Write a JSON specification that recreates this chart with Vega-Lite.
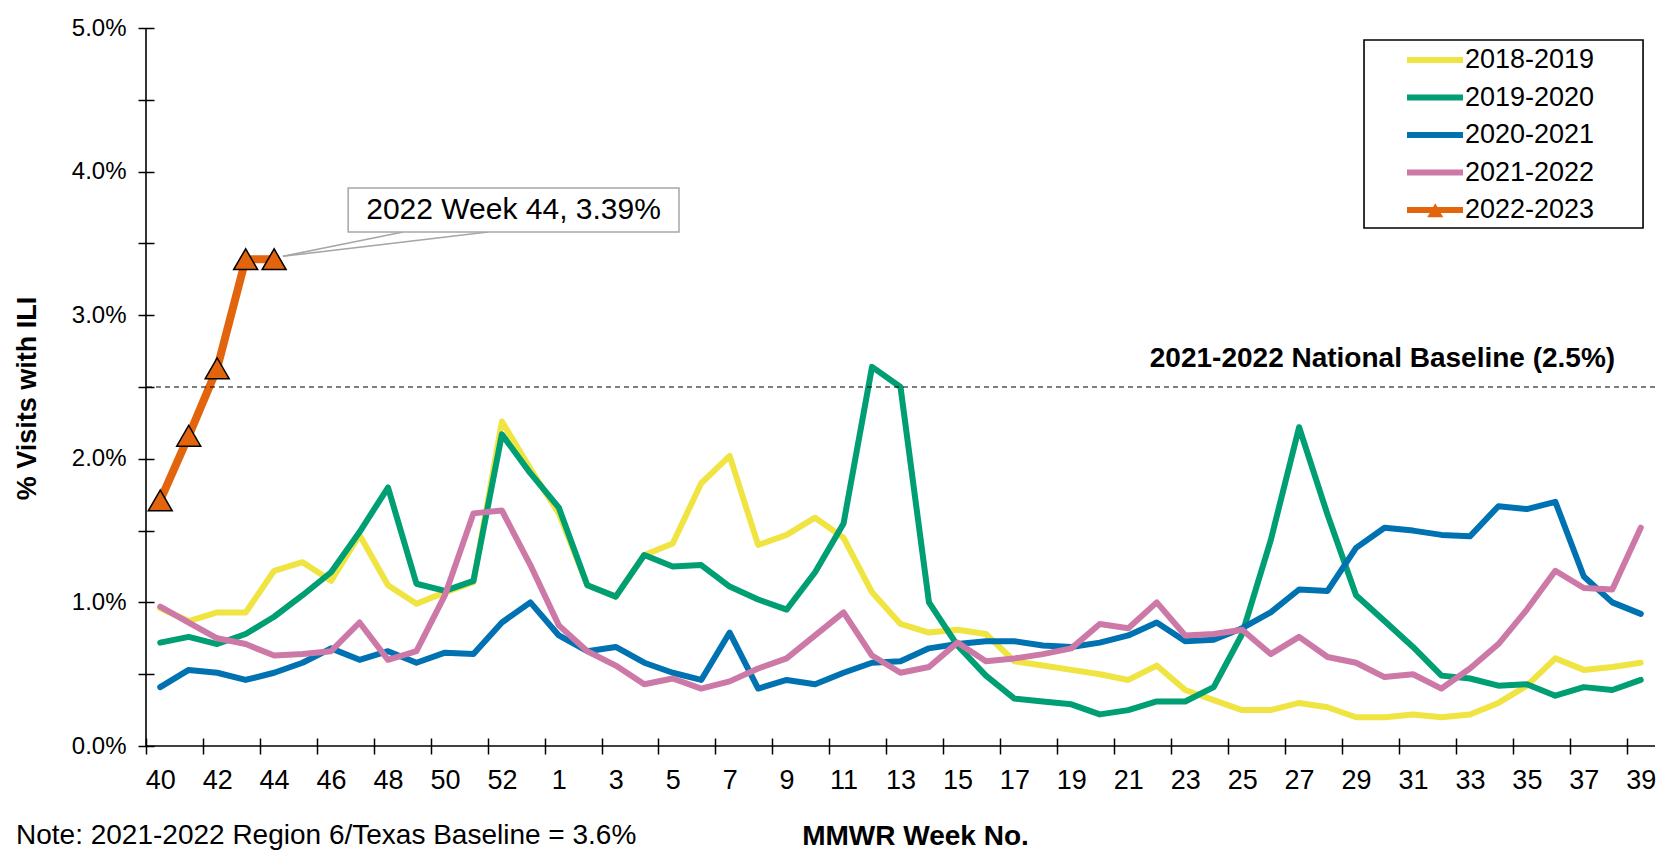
{
  "$schema": "https://vega.github.io/schema/vega-lite/v6.json",
  "width": 1509,
  "height": 718,
  "autosize": {"type": "none"},
  "padding": {"left": 146, "top": 28, "right": 10, "bottom": 104},
  "background": "white",
  "config": {"view": {"stroke": null}, "font": "Liberation Sans"},
  "title": {"text": "Note: 2021-2022 Region 6/Texas Baseline = 3.6%", "orient": "bottom", "anchor": "start", "frame": "group", "dx": -130, "offset": -28, "fontSize": 28, "fontWeight": "normal", "color": "black"},
  "datasets": {
    "ili": [
      {"s":"2018-2019","i":0,"w":40,"v":0.96},{"s":"2018-2019","i":1,"w":41,"v":0.87},{"s":"2018-2019","i":2,"w":42,"v":0.93},{"s":"2018-2019","i":3,"w":43,"v":0.93},{"s":"2018-2019","i":4,"w":44,"v":1.22},{"s":"2018-2019","i":5,"w":45,"v":1.28},{"s":"2018-2019","i":6,"w":46,"v":1.15},{"s":"2018-2019","i":7,"w":47,"v":1.47},{"s":"2018-2019","i":8,"w":48,"v":1.12},{"s":"2018-2019","i":9,"w":49,"v":0.99},{"s":"2018-2019","i":10,"w":50,"v":1.07},{"s":"2018-2019","i":11,"w":51,"v":1.14},{"s":"2018-2019","i":12,"w":52,"v":2.26},{"s":"2018-2019","i":13,"w":53,"v":1.93},{"s":"2018-2019","i":14,"w":1,"v":1.62},{"s":"2018-2019","i":15,"w":2,"v":1.12},{"s":"2018-2019","i":16,"w":3,"v":1.04},{"s":"2018-2019","i":17,"w":4,"v":1.33},{"s":"2018-2019","i":18,"w":5,"v":1.41},{"s":"2018-2019","i":19,"w":6,"v":1.83},{"s":"2018-2019","i":20,"w":7,"v":2.02},{"s":"2018-2019","i":21,"w":8,"v":1.40},{"s":"2018-2019","i":22,"w":9,"v":1.47},{"s":"2018-2019","i":23,"w":10,"v":1.59},{"s":"2018-2019","i":24,"w":11,"v":1.45},{"s":"2018-2019","i":25,"w":12,"v":1.07},{"s":"2018-2019","i":26,"w":13,"v":0.85},{"s":"2018-2019","i":27,"w":14,"v":0.79},{"s":"2018-2019","i":28,"w":15,"v":0.81},{"s":"2018-2019","i":29,"w":16,"v":0.78},{"s":"2018-2019","i":30,"w":17,"v":0.59},{"s":"2018-2019","i":31,"w":18,"v":0.56},{"s":"2018-2019","i":32,"w":19,"v":0.53},{"s":"2018-2019","i":33,"w":20,"v":0.50},{"s":"2018-2019","i":34,"w":21,"v":0.46},{"s":"2018-2019","i":35,"w":22,"v":0.56},{"s":"2018-2019","i":36,"w":23,"v":0.39},{"s":"2018-2019","i":37,"w":24,"v":0.32},{"s":"2018-2019","i":38,"w":25,"v":0.25},{"s":"2018-2019","i":39,"w":26,"v":0.25},{"s":"2018-2019","i":40,"w":27,"v":0.30},{"s":"2018-2019","i":41,"w":28,"v":0.27},{"s":"2018-2019","i":42,"w":29,"v":0.20},{"s":"2018-2019","i":43,"w":30,"v":0.20},{"s":"2018-2019","i":44,"w":31,"v":0.22},{"s":"2018-2019","i":45,"w":32,"v":0.20},{"s":"2018-2019","i":46,"w":33,"v":0.22},{"s":"2018-2019","i":47,"w":34,"v":0.30},{"s":"2018-2019","i":48,"w":35,"v":0.42},{"s":"2018-2019","i":49,"w":36,"v":0.61},{"s":"2018-2019","i":50,"w":37,"v":0.53},{"s":"2018-2019","i":51,"w":38,"v":0.55},{"s":"2018-2019","i":52,"w":39,"v":0.58},
      {"s":"2019-2020","i":0,"w":40,"v":0.72},{"s":"2019-2020","i":1,"w":41,"v":0.76},{"s":"2019-2020","i":2,"w":42,"v":0.71},{"s":"2019-2020","i":3,"w":43,"v":0.78},{"s":"2019-2020","i":4,"w":44,"v":0.90},{"s":"2019-2020","i":5,"w":45,"v":1.05},{"s":"2019-2020","i":6,"w":46,"v":1.21},{"s":"2019-2020","i":7,"w":47,"v":1.49},{"s":"2019-2020","i":8,"w":48,"v":1.80},{"s":"2019-2020","i":9,"w":49,"v":1.13},{"s":"2019-2020","i":10,"w":50,"v":1.08},{"s":"2019-2020","i":11,"w":51,"v":1.15},{"s":"2019-2020","i":12,"w":52,"v":2.17},{"s":"2019-2020","i":13,"w":53,"v":1.90},{"s":"2019-2020","i":14,"w":1,"v":1.66},{"s":"2019-2020","i":15,"w":2,"v":1.12},{"s":"2019-2020","i":16,"w":3,"v":1.04},{"s":"2019-2020","i":17,"w":4,"v":1.33},{"s":"2019-2020","i":18,"w":5,"v":1.25},{"s":"2019-2020","i":19,"w":6,"v":1.26},{"s":"2019-2020","i":20,"w":7,"v":1.11},{"s":"2019-2020","i":21,"w":8,"v":1.02},{"s":"2019-2020","i":22,"w":9,"v":0.95},{"s":"2019-2020","i":23,"w":10,"v":1.21},{"s":"2019-2020","i":24,"w":11,"v":1.55},{"s":"2019-2020","i":25,"w":12,"v":2.64},{"s":"2019-2020","i":26,"w":13,"v":2.50},{"s":"2019-2020","i":27,"w":14,"v":1.00},{"s":"2019-2020","i":28,"w":15,"v":0.70},{"s":"2019-2020","i":29,"w":16,"v":0.49},{"s":"2019-2020","i":30,"w":17,"v":0.33},{"s":"2019-2020","i":31,"w":18,"v":0.31},{"s":"2019-2020","i":32,"w":19,"v":0.29},{"s":"2019-2020","i":33,"w":20,"v":0.22},{"s":"2019-2020","i":34,"w":21,"v":0.25},{"s":"2019-2020","i":35,"w":22,"v":0.31},{"s":"2019-2020","i":36,"w":23,"v":0.31},{"s":"2019-2020","i":37,"w":24,"v":0.41},{"s":"2019-2020","i":38,"w":25,"v":0.78},{"s":"2019-2020","i":39,"w":26,"v":1.43},{"s":"2019-2020","i":40,"w":27,"v":2.22},{"s":"2019-2020","i":41,"w":28,"v":1.61},{"s":"2019-2020","i":42,"w":29,"v":1.05},{"s":"2019-2020","i":43,"w":30,"v":0.87},{"s":"2019-2020","i":44,"w":31,"v":0.69},{"s":"2019-2020","i":45,"w":32,"v":0.49},{"s":"2019-2020","i":46,"w":33,"v":0.47},{"s":"2019-2020","i":47,"w":34,"v":0.42},{"s":"2019-2020","i":48,"w":35,"v":0.43},{"s":"2019-2020","i":49,"w":36,"v":0.35},{"s":"2019-2020","i":50,"w":37,"v":0.41},{"s":"2019-2020","i":51,"w":38,"v":0.39},{"s":"2019-2020","i":52,"w":39,"v":0.46},
      {"s":"2020-2021","i":0,"w":40,"v":0.41},{"s":"2020-2021","i":1,"w":41,"v":0.53},{"s":"2020-2021","i":2,"w":42,"v":0.51},{"s":"2020-2021","i":3,"w":43,"v":0.46},{"s":"2020-2021","i":4,"w":44,"v":0.51},{"s":"2020-2021","i":5,"w":45,"v":0.58},{"s":"2020-2021","i":6,"w":46,"v":0.68},{"s":"2020-2021","i":7,"w":47,"v":0.60},{"s":"2020-2021","i":8,"w":48,"v":0.66},{"s":"2020-2021","i":9,"w":49,"v":0.58},{"s":"2020-2021","i":10,"w":50,"v":0.65},{"s":"2020-2021","i":11,"w":51,"v":0.64},{"s":"2020-2021","i":12,"w":52,"v":0.86},{"s":"2020-2021","i":13,"w":53,"v":1.00},{"s":"2020-2021","i":14,"w":1,"v":0.77},{"s":"2020-2021","i":15,"w":2,"v":0.66},{"s":"2020-2021","i":16,"w":3,"v":0.69},{"s":"2020-2021","i":17,"w":4,"v":0.58},{"s":"2020-2021","i":18,"w":5,"v":0.51},{"s":"2020-2021","i":19,"w":6,"v":0.46},{"s":"2020-2021","i":20,"w":7,"v":0.79},{"s":"2020-2021","i":21,"w":8,"v":0.40},{"s":"2020-2021","i":22,"w":9,"v":0.46},{"s":"2020-2021","i":23,"w":10,"v":0.43},{"s":"2020-2021","i":24,"w":11,"v":0.51},{"s":"2020-2021","i":25,"w":12,"v":0.58},{"s":"2020-2021","i":26,"w":13,"v":0.59},{"s":"2020-2021","i":27,"w":14,"v":0.68},{"s":"2020-2021","i":28,"w":15,"v":0.71},{"s":"2020-2021","i":29,"w":16,"v":0.73},{"s":"2020-2021","i":30,"w":17,"v":0.73},{"s":"2020-2021","i":31,"w":18,"v":0.70},{"s":"2020-2021","i":32,"w":19,"v":0.69},{"s":"2020-2021","i":33,"w":20,"v":0.72},{"s":"2020-2021","i":34,"w":21,"v":0.77},{"s":"2020-2021","i":35,"w":22,"v":0.86},{"s":"2020-2021","i":36,"w":23,"v":0.73},{"s":"2020-2021","i":37,"w":24,"v":0.74},{"s":"2020-2021","i":38,"w":25,"v":0.82},{"s":"2020-2021","i":39,"w":26,"v":0.93},{"s":"2020-2021","i":40,"w":27,"v":1.09},{"s":"2020-2021","i":41,"w":28,"v":1.08},{"s":"2020-2021","i":42,"w":29,"v":1.38},{"s":"2020-2021","i":43,"w":30,"v":1.52},{"s":"2020-2021","i":44,"w":31,"v":1.50},{"s":"2020-2021","i":45,"w":32,"v":1.47},{"s":"2020-2021","i":46,"w":33,"v":1.46},{"s":"2020-2021","i":47,"w":34,"v":1.67},{"s":"2020-2021","i":48,"w":35,"v":1.65},{"s":"2020-2021","i":49,"w":36,"v":1.70},{"s":"2020-2021","i":50,"w":37,"v":1.18},{"s":"2020-2021","i":51,"w":38,"v":1.00},{"s":"2020-2021","i":52,"w":39,"v":0.92},
      {"s":"2021-2022","i":0,"w":40,"v":0.97},{"s":"2021-2022","i":1,"w":41,"v":0.86},{"s":"2021-2022","i":2,"w":42,"v":0.75},{"s":"2021-2022","i":3,"w":43,"v":0.71},{"s":"2021-2022","i":4,"w":44,"v":0.63},{"s":"2021-2022","i":5,"w":45,"v":0.64},{"s":"2021-2022","i":6,"w":46,"v":0.66},{"s":"2021-2022","i":7,"w":47,"v":0.86},{"s":"2021-2022","i":8,"w":48,"v":0.60},{"s":"2021-2022","i":9,"w":49,"v":0.66},{"s":"2021-2022","i":10,"w":50,"v":1.05},{"s":"2021-2022","i":11,"w":51,"v":1.62},{"s":"2021-2022","i":12,"w":52,"v":1.64},{"s":"2021-2022","i":13,"w":53,"v":1.26},{"s":"2021-2022","i":14,"w":1,"v":0.84},{"s":"2021-2022","i":15,"w":2,"v":0.66},{"s":"2021-2022","i":16,"w":3,"v":0.56},{"s":"2021-2022","i":17,"w":4,"v":0.43},{"s":"2021-2022","i":18,"w":5,"v":0.47},{"s":"2021-2022","i":19,"w":6,"v":0.40},{"s":"2021-2022","i":20,"w":7,"v":0.45},{"s":"2021-2022","i":21,"w":8,"v":0.54},{"s":"2021-2022","i":22,"w":9,"v":0.61},{"s":"2021-2022","i":23,"w":10,"v":0.77},{"s":"2021-2022","i":24,"w":11,"v":0.93},{"s":"2021-2022","i":25,"w":12,"v":0.63},{"s":"2021-2022","i":26,"w":13,"v":0.51},{"s":"2021-2022","i":27,"w":14,"v":0.55},{"s":"2021-2022","i":28,"w":15,"v":0.72},{"s":"2021-2022","i":29,"w":16,"v":0.59},{"s":"2021-2022","i":30,"w":17,"v":0.61},{"s":"2021-2022","i":31,"w":18,"v":0.64},{"s":"2021-2022","i":32,"w":19,"v":0.68},{"s":"2021-2022","i":33,"w":20,"v":0.85},{"s":"2021-2022","i":34,"w":21,"v":0.82},{"s":"2021-2022","i":35,"w":22,"v":1.00},{"s":"2021-2022","i":36,"w":23,"v":0.77},{"s":"2021-2022","i":37,"w":24,"v":0.78},{"s":"2021-2022","i":38,"w":25,"v":0.81},{"s":"2021-2022","i":39,"w":26,"v":0.64},{"s":"2021-2022","i":40,"w":27,"v":0.76},{"s":"2021-2022","i":41,"w":28,"v":0.62},{"s":"2021-2022","i":42,"w":29,"v":0.58},{"s":"2021-2022","i":43,"w":30,"v":0.48},{"s":"2021-2022","i":44,"w":31,"v":0.50},{"s":"2021-2022","i":45,"w":32,"v":0.40},{"s":"2021-2022","i":46,"w":33,"v":0.54},{"s":"2021-2022","i":47,"w":34,"v":0.71},{"s":"2021-2022","i":48,"w":35,"v":0.95},{"s":"2021-2022","i":49,"w":36,"v":1.22},{"s":"2021-2022","i":50,"w":37,"v":1.10},{"s":"2021-2022","i":51,"w":38,"v":1.09},{"s":"2021-2022","i":52,"w":39,"v":1.52},
      {"s":"2022-2023","i":0,"w":40,"v":1.71},{"s":"2022-2023","i":1,"w":41,"v":2.16},{"s":"2022-2023","i":2,"w":42,"v":2.63},{"s":"2022-2023","i":3,"w":43,"v":3.39},{"s":"2022-2023","i":4,"w":44,"v":3.39}
    ]
  },
  "layer": [
    {
      "data": {"values": [{}]},
      "mark": {"type": "rule", "color": "black", "strokeWidth": 1.6},
      "encoding": {"x": {"datum": -0.5, "type": "quantitative"}}
    },
    {
      "data": {"values": [{}]},
      "mark": {"type": "rule", "color": "black", "strokeWidth": 1.6},
      "encoding": {"y": {"datum": 0, "type": "quantitative"}}
    },
    {
      "data": {"values": [{}]},
      "mark": {"type": "rect", "filled": false, "stroke": "black", "strokeWidth": 1.6},
      "encoding": {"x": {"datum": 42.28, "type": "quantitative"}, "x2": {"datum": 52.08}, "y": {"datum": 4.916, "type": "quantitative"}, "y2": {"datum": 3.607}}
    },
    {
      "data": {"name": "ili"},
      "transform": [{"filter": "datum.s !== '2022-2023'"}],
      "mark": {"type": "line", "strokeJoin": "round", "strokeCap": "round", "strokeWidth": 6},
      "encoding": {
        "x": {"field": "i", "type": "quantitative",
          "scale": {"domain": [-0.5, 52.5], "nice": false, "zero": false},
          "axis": {"title": "MMWR Week No.", "values": [0,1,2,3,4,5,6,7,8,9,10,11,12,13,14,15,16,17,18,19,20,21,22,23,24,25,26,27,28,29,30,31,32,33,34,35,36,37,38,39,40,41,42,43,44,45,46,47,48,49,50,51,52,53],
            "labelExpr": "datum.value % 2 == 0 && datum.value < 53 ? '' + (datum.value <= 13 ? datum.value + 40 : datum.value - 13) : ''",
            "offset": -8, "domain": false,
            "tickOffset": -14.235, "labelOffset": 14.235, "labelFontSize": 27, "labelColor": "black", "labelPadding": 13, "labelOverlap": false, "labelFlush": false, "labelBound": false,
            "tickSize": 16, "tickColor": "black", "tickWidth": 1.5, "grid": false,
            "titleFontSize": 28, "titleFontWeight": "bold", "titleColor": "black", "titleX": 769, "titleY": 98, "titleBaseline": "middle", "titleAlign": "center"}},
        "y": {"field": "v", "type": "quantitative",
          "scale": {"domain": [0, 5], "nice": false},
          "axis": {"title": "% Visits with ILI", "values": [0,0.5,1,1.5,2,2.5,3,3.5,4,4.5,5],
            "labelExpr": "datum.value % 1 == 0 ? format(datum.value, '.1f') + '%' : ''",
            "offset": -8, "domain": false,
            "labelFontSize": 24, "labelColor": "black", "labelPadding": 12, "tickSize": 16, "tickColor": "black", "tickWidth": 1.5, "grid": false,
            "titleFontSize": 27, "titleFontWeight": "bold", "titleColor": "black", "titleX": -127, "titleY": 370, "titleAngle": 270, "titleAlign": "center", "titleBaseline": "middle"}},
        "color": {"field": "s", "type": "nominal",
          "scale": {"domain": ["2018-2019","2019-2020","2020-2021","2021-2022","2022-2023"], "range": ["#F0E442","#009E73","#0072B2","#CC79A7","#E2650D"]},
          "legend": {"title": null, "orient": "none", "legendX": 1218, "legendY": 12, "symbolType": "M-2,0L2,0", "symbolSize": 784, "symbolStrokeWidth": 6, "symbolOffset": 51, "labelOffset": 13, "labelFontSize": 27, "labelColor": "black", "rowPadding": 7.5, "padding": 3}}
      }
    },
    {
      "data": {"name": "ili"},
      "transform": [{"filter": "datum.s === '2022-2023'"}],
      "mark": {"type": "line", "strokeJoin": "round", "strokeCap": "round", "strokeWidth": 8},
      "encoding": {
        "x": {"field": "i", "type": "quantitative"},
        "y": {"field": "v", "type": "quantitative"},
        "color": {"field": "s", "type": "nominal"}
      }
    },
    {
      "data": {"name": "ili"},
      "transform": [{"filter": "datum.s === '2022-2023'"}],
      "mark": {"type": "point", "filled": true, "fill": "#E2650D", "stroke": "black", "strokeWidth": 1.5, "size": 576, "opacity": 1},
      "encoding": {
        "x": {"field": "i", "type": "quantitative"},
        "y": {"field": "v", "type": "quantitative"},
        "shape": {"field": "s", "type": "nominal", "scale": {"range": ["triangle-up"]},
          "legend": {"title": null, "orient": "none", "legendX": 1280.25, "legendY": 173.25, "padding": 0, "labelExpr": "''", "labelFontSize": 1, "labelOffset": 0, "symbolSize": 256, "symbolType": "triangle-up", "symbolFillColor": "#E2650D", "symbolStrokeColor": "black", "symbolStrokeWidth": 1.5}}
      }
    },
    {
      "data": {"values": [{}]},
      "mark": {"type": "rule", "color": "black", "strokeWidth": 1.2, "strokeDash": [5, 4]},
      "encoding": {"y": {"datum": 2.5, "type": "quantitative"}}
    },
    {
      "data": {"values": [{}]},
      "mark": {"type": "text", "text": "2021-2022 National Baseline (2.5%)", "fontSize": 28, "fontWeight": "bold", "align": "right", "baseline": "middle", "color": "black"},
      "encoding": {"x": {"datum": 51.1, "type": "quantitative"}, "y": {"datum": 2.695, "type": "quantitative"}}
    },
    {
      "data": {"values": [{}]},
      "mark": {"type": "rule", "color": "#A6A6A6", "strokeWidth": 1.5},
      "encoding": {"x": {"datum": 8.53, "type": "quantitative"}, "y": {"datum": 3.579, "type": "quantitative"}, "x2": {"datum": 4.31}, "y2": {"datum": 3.41}}
    },
    {
      "data": {"values": [{}]},
      "mark": {"type": "rule", "color": "#A6A6A6", "strokeWidth": 1.5},
      "encoding": {"x": {"datum": 11.51, "type": "quantitative"}, "y": {"datum": 3.579, "type": "quantitative"}, "x2": {"datum": 4.31}, "y2": {"datum": 3.41}}
    },
    {
      "data": {"values": [{}]},
      "mark": {"type": "rect", "fill": "white", "stroke": "#A6A6A6", "strokeWidth": 1.5},
      "encoding": {"x": {"datum": 6.6, "type": "quantitative"}, "x2": {"datum": 18.22}, "y": {"datum": 3.886, "type": "quantitative"}, "y2": {"datum": 3.579}}
    },
    {
      "data": {"values": [{}]},
      "mark": {"type": "text", "text": "2022 Week 44, 3.39%", "fontSize": 30, "align": "center", "baseline": "middle", "color": "black"},
      "encoding": {"x": {"datum": 12.41, "type": "quantitative"}, "y": {"datum": 3.733, "type": "quantitative"}}
    }
  ]
}
